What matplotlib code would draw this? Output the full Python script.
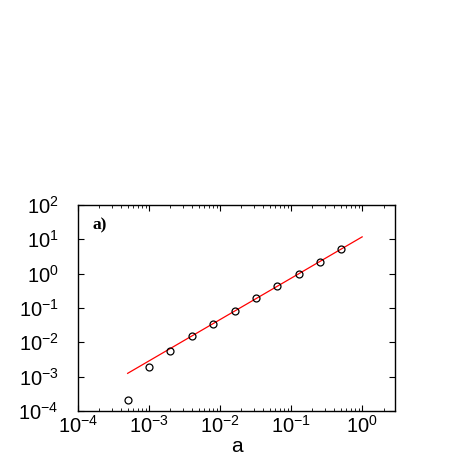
import matplotlib
matplotlib.use('Agg')
import matplotlib.pyplot as plt
import numpy as np

# data
a_vals = [5e-4, 1e-3, 2e-3, 4e-3, 8e-3, 0.016, 0.032, 0.064, 0.128, 0.256, 0.512]
f_vals = [2.1e-4, 1.9e-3, 5.7e-3, 0.015, 0.035, 0.081, 0.19, 0.44, 1.0, 2.2, 5.3]
fit_a = [5e-4, 1.0]
fit_f = [1.25e-3, 11.8]

plt.rcParams['font.family'] = ['Liberation Sans', 'DejaVu Sans']
plt.rcParams['mathtext.fontset'] = 'custom'
plt.rcParams['mathtext.rm'] = 'Liberation Sans'

fig = plt.figure(figsize=(4.63, 4.63), dpi=100)
ax = fig.add_axes([78/463, 1 - 411/463, (395-78)/463, (411-205)/463])

ax.plot(fit_a, fit_f, color='red', lw=0.9)
ax.plot(a_vals, f_vals, 'o', mfc='none', mec='black', ms=5, mew=0.9)

ax.set_xscale('log')
ax.set_yscale('log')
ax.set_xlim(1e-4, 2.9)
ax.set_ylim(1e-4, 1e2)
ax.set_xticks([1e-4, 1e-3, 1e-2, 1e-1, 1e0])
ax.set_yticks([1e-4, 1e-3, 1e-2, 1e-1, 1e0, 1e1, 1e2])

ax.tick_params(which='both', direction='in', top=True, right=True, labelsize=14.5)
ax.tick_params(axis='y', which='major', pad=14)
ax.tick_params(axis='x', which='major', pad=3)
ax.tick_params(which='major', length=4, width=0.8)
ax.tick_params(which='minor', length=2, width=0.6)
for s in ax.spines.values():
    s.set_linewidth(1.0)

ax.set_xlabel('a', fontsize=15, labelpad=0)
ax.set_ylabel('F(a)', fontsize=14)
ax.yaxis.set_label_coords(-0.25, 0.5)

ax.text(0.047, 0.90, 'a)', transform=ax.transAxes, fontsize=12.5,
        fontweight='bold', family='Liberation Serif', va='center')

fig.savefig('out.png', dpi=100)
